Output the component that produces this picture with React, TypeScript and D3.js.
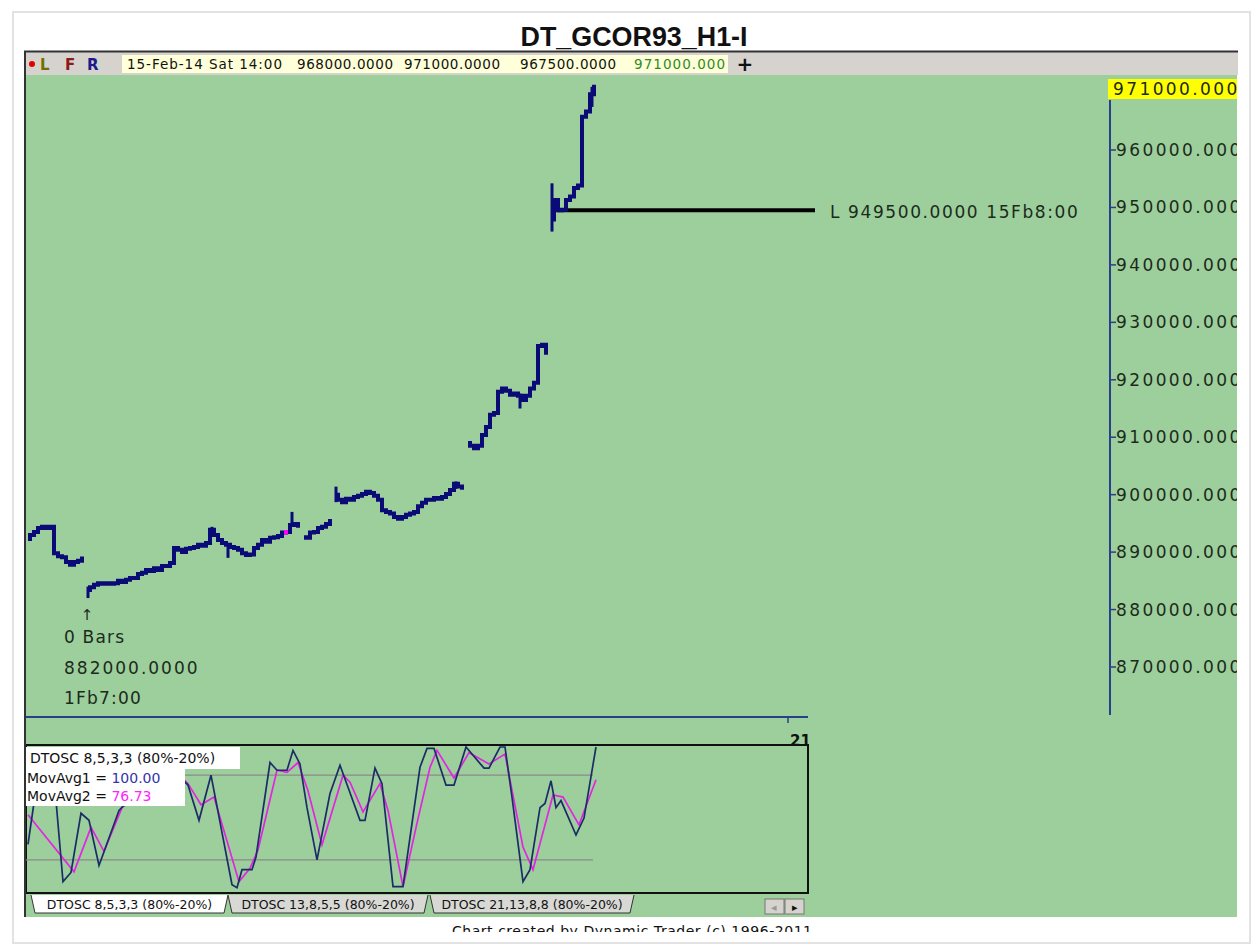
import React from 'react';
import * as d3 from 'd3';

// hourly closes (thousands), bar 0 = left edge of the chart
const closes = [
  892.3, 893.0, 893.5, 894.2, 894.4, 894.2, 894.4, 889.8, 889.3, 889.1,
  888.3, 887.8, 888.3, 888.5, 888.9, 883.4, 883.9, 884.3, 884.6, 884.5,
  884.6, 884.5, 884.6, 885.0, 884.8, 885.2, 885.5, 885.5, 886.2, 886.4,
  886.9, 886.7, 887.2, 886.9, 887.6, 887.6, 888.1, 890.7, 890.4, 890.0,
  890.6, 890.7, 890.9, 891.3, 891.1, 891.6, 893.9, 893.0, 892.1, 891.6,
  891.3, 890.9, 890.7, 890.4, 889.8, 889.5, 889.6, 890.7, 891.3, 892.1,
  891.8, 892.5, 892.6, 892.8, 893.4, 893.5, 894.7, 894.9, 894.6, 892.6,
  892.5, 893.4, 893.5, 894.2, 894.4, 894.9, 895.4, 900.0, 899.1, 898.7,
  899.3, 899.1, 899.6, 899.8, 900.1, 900.5, 900.3, 899.8, 899.1, 897.3,
  897.0, 896.7, 896.1, 895.8, 896.1, 896.5, 896.7, 897.0, 898.0, 898.6,
  899.1, 899.1, 899.4, 899.3, 899.6, 900.1, 900.8, 901.9, 901.4, 901.2,
  909.0, 908.5, 908.1, 908.5, 910.4, 911.8, 913.9, 914.2, 917.9, 918.5,
  918.1, 917.4, 917.6, 917.2, 916.5, 917.2, 918.5, 919.5, 925.9, 926.1,
  924.7, 947.9, 951.3, 949.5, 949.6, 951.3, 951.9, 953.4, 953.8, 965.8,
  966.7, 969.7, 971.0,
];
const sessionStarts = [0, 15, 69, 77, 110, 131];
// [bar, low, high] in thousands
const wicks = [
  [15, 882.0, 884.0], [46, 893.0, 894.4], [50, 889.0, 891.5], [66, 894.5, 897.0],
  [77, 898.7, 901.4], [107, 901.0, 902.3], [123, 915.0, 917.6], [131, 945.8, 954.2],
  [141, 967.5, 971.0],
];
const highlightBars = [64, 65];
const priceTicks = [870000, 880000, 890000, 900000, 910000, 920000, 930000, 940000, 950000, 960000];
const lastPrice = 971000;
const lowBar = 133;
const lowPrice = 949500;
const pivotBar = 15;
const pivotPrice = 882000;
const dateTicks = [{ bar: 190, label: '21' }];

// DTOSC 8,5,3,3 : vertices [bar, value]
const oscFastIdx = [0, 3, 7, 8.75, 10.75, 13.25, 15.25, 17.75, 22.75, 34.25, 40, 42.75, 45.75, 51, 52.25, 53.5, 56, 57, 60.5, 62.25, 64.75, 66.25, 68, 69.75, 72.25, 75.5, 78, 80, 83, 84.25, 86.75, 88.5, 91.25, 93.75, 98, 99.75, 101.5, 104.5, 106.5, 109.5, 114, 115.25, 118, 119.25, 121, 123.75, 125.5, 128, 129.25, 130.75, 132, 133.25, 137, 139, 142];
const oscFastVal = [31, 90, 62, 4.5, 11, 53, 48, 16, 55, 89, 73, 48, 80, 2.4, 0.2, 13, 13, 22, 89, 83.5, 83.5, 97.6, 88, 57, 20, 67, 87, 71.5, 48, 48, 85, 74, 1, 1, 85.6, 99, 99, 73, 73, 100, 85, 85, 100, 100, 64.4, 4.5, 13, 57, 60, 76, 57, 62, 37.6, 49.6, 100];
const oscSlowIdx = [0, 11.5, 15.75, 19, 23.5, 36.75, 40, 43.25, 46.5, 52.75, 55.5, 57.5, 62.25, 64.75, 67.5, 70, 73.5, 78.75, 80.5, 83.75, 88, 90, 93.75, 97.25, 100.5, 102.25, 106.5, 110.25, 115.25, 119.25, 123.75, 126.25, 131.25, 133.75, 137.75, 142];
const oscSlowVal = [52, 11.5, 43, 26, 57, 83, 74, 59, 64.5, 4.5, 14, 27, 83.5, 82, 89, 69, 30.6, 80, 75, 54, 74, 55, 1, 46, 85.6, 97.6, 78, 96, 88, 95, 29, 13, 66, 64.5, 44.8, 76.73];
const oscBands = [80, 20];

const tabs = ['DTOSC 8,5,3,3 (80%-20%)', 'DTOSC 13,8,5,5 (80%-20%)', 'DTOSC 21,13,8,8 (80%-20%)'];
const headerVals = ['968000.0000', '971000.0000', '967500.0000', '971000.000'];

const GREEN = '#9ccf9b';
const NAVY = '#0b0b78';
const HAND = "'Segoe Print', 'DejaVu Sans', sans-serif";
const UI = "Tahoma, 'DejaVu Sans', sans-serif";

const App = () => {
  const x = d3.scaleLinear().domain([0, 142]).range([28, 596]);
  const y = d3.scaleLinear().domain([870000, 960000]).range([667, 150]);
  const oy = d3.scaleLinear().domain([0, 100]).range([888, 747]);

  const stepLine = d3.line<{ i: number; v: number }>()
    .x(d => x(d.i)).y(d => y(d.v)).curve(d3.curveStep);
  const sessions = sessionStarts.map((s, k) =>
    closes.slice(s, sessionStarts[k + 1] ?? closes.length).map((c, j) => ({ i: s + j, v: c * 1000 })));
  const hl = highlightBars.map(i => ({ i, v: closes[i] * 1000 }));

  const oscLine = d3.line<[number, number]>().x(d => x(d[0])).y(d => oy(d[1]));
  const fast = oscFastIdx.map((b, k) => [b, oscFastVal[k]] as [number, number]);
  const slow = oscSlowIdx.map((b, k) => [b, oscSlowVal[k]] as [number, number]);

  const tabX = [31, 228, 430];
  const tabW = [197, 200, 204];

  return (
    <svg width={1256} height={944} style={{ position: 'absolute', left: 0, top: 0, background: '#fff' }}>
      <defs>
        <clipPath id="plot"><rect x={26} y={75} width={1211} height={842} /></clipPath>
        <clipPath id="osc"><rect x={26} y={746} width={782} height={146} /></clipPath>
        <clipPath id="foot"><rect x={0} y={917} width={1256} height={15} /></clipPath>
        <clipPath id="axisR"><rect x={26} y={75} width={782} height={680} /></clipPath>
      </defs>
      {/* outer frame */}
      <rect x={13} y={12} width={1237} height={931} fill="#fff" stroke="#e2e2e2" strokeWidth={2} />
      <text x={634} y={46} textAnchor="middle" fontFamily="'Liberation Sans Narrow', 'Liberation Sans', sans-serif"
        fontWeight="bold" fontSize={27} textLength={227} lengthAdjust="spacingAndGlyphs" fill="#111">DT_GCOR93_H1-I</text>

      {/* toolbar */}
      <rect x={24} y={51} width={1214} height={24} fill="#d6d3ce" />
      <line x1={24} x2={1238} y1={51.5} y2={51.5} stroke="#333" strokeWidth={2} />
      <circle cx={32} cy={64} r={3} fill="#e00000" />
      <text x={40} y={70} fontFamily={UI} fontSize={15} fontWeight="bold" fill="#707000">L</text>
      <text x={65} y={70} fontFamily={UI} fontSize={15} fontWeight="bold" fill="#8b1a1a">F</text>
      <text x={87} y={70} fontFamily={UI} fontSize={15} fontWeight="bold" fill="#1a1a8b">R</text>
      <rect x={122} y={55} width={606} height={18} fill="#ffffd9" />
      <text x={127} y={69} fontFamily={UI} fontSize={13.5} fill="#111" textLength={155}>15-Feb-14 Sat 14:00</text>
      {headerVals.map((v, k) => (
        <text key={v + k} x={[297, 404, 520, 634][k]} y={69} fontFamily={UI} fontSize={13.5}
          fill={k === 3 ? '#2e8b22' : '#111'} textLength={k === 3 ? 91 : 96}>{v}</text>
      ))}
      <text x={745} y={71} textAnchor="middle" fontFamily={UI} fontSize={20} fontWeight="bold" fill="#111">+</text>

      {/* plot background */}
      <rect x={26} y={75} width={1211} height={842} fill={GREEN} />
      <line x1={25} x2={25} y1={51} y2={917} stroke="#333" strokeWidth={2} />

      <g clipPath="url(#plot)">
        {/* right price axis */}
        <line x1={1110} x2={1110} y1={100} y2={715} stroke="#2a3f8a" strokeWidth={2} />
        {priceTicks.map(t => (
          <g key={t}>
            <line x1={1110} x2={1116} y1={y(t)} y2={y(t)} stroke="#2a3f8a" strokeWidth={1.5} />
            <text x={1116} y={y(t) + 6} fontFamily={HAND} fontSize={17} letterSpacing={2.4} fill="#1c2a1c">
              {d3.format('.3f')(t)}
            </text>
          </g>
        ))}
        <rect x={1108} y={79} width={130} height={20} fill="#ffff00" />
        <text x={1113} y={95} fontFamily={HAND} fontSize={17} letterSpacing={2.4} fill="#1c2a1c">
          {d3.format('.3f')(lastPrice)}
        </text>

        {/* low marker */}
        <line x1={x(lowBar) - 3} x2={815} y1={y(lowPrice)} y2={y(lowPrice)} stroke="#000" strokeWidth={4} />
        <text x={830} y={y(lowPrice) + 8} fontFamily={HAND} fontSize={17} letterSpacing={1.6} fill="#1c2a1c">
          {`L ${d3.format('.4f')(lowPrice)} 15Fb8:00`}
        </text>

        {/* price bars */}
        {sessions.map((s, k) => (
          <path key={k} d={stepLine(s) ?? ''} fill="none" stroke={NAVY} strokeWidth={4} />
        ))}
        {wicks.map(([b, lo, hi]) => (
          <line key={b} x1={x(b)} x2={x(b)} y1={y(lo * 1000)} y2={y(hi * 1000)} stroke={NAVY} strokeWidth={3} />
        ))}
        <path d={stepLine(hl) ?? ''} fill="none" stroke="#ff00ff" strokeWidth={4} />

        {/* pivot annotation */}
        <text x={x(pivotBar) - 1} y={620} textAnchor="middle" fontFamily="'DejaVu Sans', sans-serif" fontSize={15} fill="#1c2a1c">↑</text>
        <text x={64} y={643} fontFamily={HAND} fontSize={17} letterSpacing={1.2} fill="#1c2a1c">0 Bars</text>
        <text x={64} y={674} fontFamily={HAND} fontSize={17} letterSpacing={2} fill="#1c2a1c">{d3.format('.4f')(pivotPrice)}</text>
        <text x={64} y={704} fontFamily={HAND} fontSize={17} letterSpacing={1.2} fill="#1c2a1c">1Fb7:00</text>

        {/* time axis */}
        <line x1={26} x2={808} y1={717} y2={717} stroke="#2a3f8a" strokeWidth={2} />
        <g clipPath="url(#axisR)">
          {dateTicks.map(t => (
            <g key={t.label}>
              <line x1={x(t.bar)} x2={x(t.bar)} y1={717} y2={723} stroke="#2a3f8a" strokeWidth={1.5} />
              <text x={x(t.bar) + 2} y={746} fontFamily={UI} fontSize={15} fontWeight="bold" fill="#111">{t.label}</text>
            </g>
          ))}
        </g>

        {/* oscillator panel */}
        <rect x={26} y={745} width={782} height={148} fill={GREEN} stroke="#111" strokeWidth={2} />
        <g clipPath="url(#osc)">
          {oscBands.map(b => (
            <line key={b} x1={26} x2={x(142) - 3} y1={oy(b)} y2={oy(b)} stroke="#8a8a8a" strokeWidth={1.2} />
          ))}
          <path d={oscLine(slow) ?? ''} fill="none" stroke="#e424e4" strokeWidth={1.7} />
          <path d={oscLine(fast) ?? ''} fill="none" stroke="#1b2c66" strokeWidth={1.7} />
        </g>
        <rect x={26} y={747} width={214} height={22} fill="#fff" />
        <rect x={26} y={768} width={159} height={38} fill="#fff" />
        <text x={30} y={763} fontFamily={UI} fontSize={14} fill="#111">DTOSC 8,5,3,3 (80%-20%)</text>
        <text x={27} y={783} fontFamily={UI} fontSize={14} fill="#111">MovAvg1 = <tspan fill="#3434a8">{d3.format('.2f')(oscFastVal[oscFastVal.length - 1])}</tspan></text>
        <text x={27} y={801} fontFamily={UI} fontSize={14} fill="#111">MovAvg2 = <tspan fill="#ff22ff">{d3.format('.2f')(oscSlowVal[oscSlowVal.length - 1])}</tspan></text>

        {/* tabs */}
        {tabs.map((t, k) => {
          const x0 = tabX[k];
          const w = tabW[k];
          return (
            <g key={t}>
              <path d={`M${x0},895 L${x0 + 4},913 L${x0 + w - 4},913 L${x0 + w},895`}
                fill={k === 0 ? '#fff' : '#d8d8d4'} stroke="#333" strokeWidth={1} />
              <text x={x0 + w / 2} y={909} textAnchor="middle" fontFamily={UI} fontSize={12.5} fill="#111">{t}</text>
            </g>
          );
        })}
        <rect x={765} y={899} width={19} height={15} fill="#d6d3ce" stroke="#777" />
        <rect x={785} y={899} width={19} height={15} fill="#d6d3ce" stroke="#777" />
        <text x={774} y={911} textAnchor="middle" fontSize={11} fill="#999">◂</text>
        <text x={795} y={911} textAnchor="middle" fontSize={11} fill="#111">▸</text>
      </g>

      {/* footer, cut off at the bottom like the source screenshot */}
      <rect x={26} y={917} width={1211} height={16} fill="#fff" />
      <g clipPath="url(#foot)">
        <text x={452} y={936} fontFamily={UI} fontSize={14} fill="#111" textLength={360}>
          Chart created by Dynamic Trader  (c) 1996-2011
        </text>
      </g>
    </svg>
  );
};

export default App;
